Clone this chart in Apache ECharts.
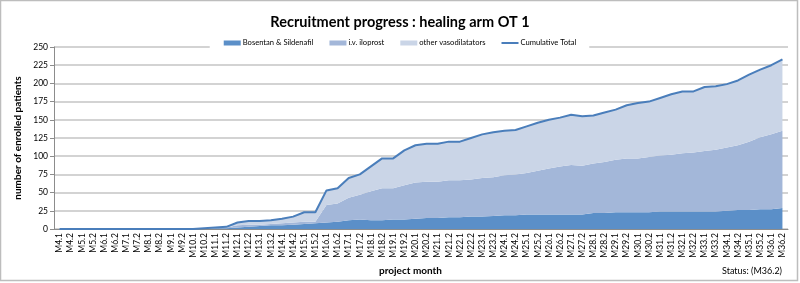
<!DOCTYPE html>
<html><head><meta charset="utf-8">
<script src="https://cdn.jsdelivr.net/npm/echarts@6/dist/echarts.min.js"></script>
<style>html,body{margin:0;padding:0;background:#fff}#c{width:800px;height:283px}</style>
</head><body><div id="c"></div>
<script>
const months = [];
for (let m = 4; m <= 36; m++) { months.push('M' + m + '.1'); months.push('M' + m + '.2'); }

const bosentan = [0,0,0,0,0,0,0,0,0,0,0,0,0,0,1,1,2,3,4,5,5,6,7,8,9,10,12,13,12,12,13,13,14,15,15,16,16,17,17,18,19,19,20,20,20,20,20,20,22,22,23,23,23,23,24,24,24,24,24,24,25,26,26,27,27,29];
const iloprost = [0,0,0,0,0,0,0,0,0,0,0,0,0,1,0,1,3,3,2,2,3,3,3,2,24,25,31,34,40,44,43,47,50,50,50,51,51,51,53,53,55,56,57,60,63,66,68,67,68,70,72,74,74,76,77,78,80,81,83,85,87,89,94,99,103,106];
const others = [0,0,0,0,0,0,0,0,0,0,0,0,0,0,1,1,4,5,5,5,6,8,13,13,20,21,27,28,34,41,41,48,51,52,52,53,53,57,60,62,61,61,64,66,67,67,69,68,66,68,69,73,76,76,79,83,85,84,88,87,87,89,92,93,95,98];
const cumulative = [0,0,0,0,0,0,0,0,0,0,0,0,0,1,2,3,9,11,11,12,14,17,23,23,53,56,70,75,86,97,97,108,115,117,117,120,120,125,130,133,135,136,141,146,150,153,157,155,156,160,164,170,173,175,180,185,189,189,195,196,199,204,212,219,225,233];
const yTicks = { min: 0, max: 250, interval: 25 };

const FONT = 'Lato, "Open Sans", sans-serif';
const chart = echarts.init(document.getElementById('c'), null, { renderer: 'canvas' });
const area = (name, data, color) => ({
  name, type: 'line', stack: 'total', data, symbol: 'none', smooth: false,
  lineStyle: { width: 0, color }, itemStyle: { color },
  areaStyle: { color, opacity: 1 }, z: 2
});
chart.setOption({
  animation: false,
  backgroundColor: '#fff',
  textStyle: { fontFamily: FONT },
  title: {
    text: 'Recruitment progress : healing arm OT 1',
    left: 'center', top: 10,
    textStyle: { fontFamily: FONT, fontSize: 14.5, fontWeight: 'bold', color: '#000' }
  },
  legend: {
    top: 36, left: 'center',
    backgroundColor: '#fff', padding: [3, 13, 3, 14],
    itemWidth: 17, itemHeight: 5, itemGap: 16,
    textStyle: { fontFamily: FONT, fontSize: 7.6, color: '#000', padding: [0, 0, 0, -3] },
    data: [
      { name: 'Bosentan & Sildenafil', icon: 'rect' },
      { name: 'i.v. iloprost', icon: 'rect' },
      { name: 'other vasodilatators', icon: 'rect' },
      { name: 'Cumulative Total', icon: 'path://M0,0 H17 V2 H0 Z' }
    ]
  },
  grid: { left: 54, right: 12, top: 47, bottom: 54 },
  xAxis: {
    type: 'category', data: months, boundaryGap: true,
    name: 'project month', nameLocation: 'middle', nameGap: 36,
    nameTextStyle: { fontFamily: FONT, fontSize: 10, fontWeight: 'bold', color: '#000', padding: [0, 21, 0, 0] },
    axisLine: { lineStyle: { color: '#8c8c8c' } },
    axisTick: { alignWithLabel: false, interval: 0, lineStyle: { color: '#8c8c8c' }, length: 4 },
    axisLabel: { interval: 0, rotate: 90, fontSize: 8.5, color: '#000', margin: 4, fontFamily: FONT },
    splitLine: { show: false }
  },
  yAxis: {
    type: 'value', min: yTicks.min, max: yTicks.max, interval: yTicks.interval,
    name: 'number of enrolled patients', nameLocation: 'middle', nameGap: 30, nameRotate: 90,
    nameTextStyle: { fontFamily: FONT, fontSize: 10, fontWeight: 'bold', color: '#000' },
    axisLine: { show: true, lineStyle: { color: '#8c8c8c' } },
    axisTick: { show: true, length: 4, lineStyle: { color: '#8c8c8c' } },
    axisLabel: { fontSize: 8.5, color: '#000', margin: 6, fontFamily: FONT },
    splitLine: { lineStyle: { color: '#c4c4c4', width: 1.5 } }
  },
  graphic: [
    { type: 'rect', shape: { x: 0.5, y: 0.5, width: 797, height: 280 }, style: { fill: 'none', stroke: '#bdbdbd', lineWidth: 1.5 }, z: 100 },
    { type: 'text', right: 18, top: 267, style: { text: 'Status: (M36.2)', font: '9px ' + FONT, fill: '#000' } }
  ],
  series: [
    area('Bosentan & Sildenafil', bosentan, '#5b8fc8'),
    area('i.v. iloprost', iloprost, '#a3b7d9'),
    area('other vasodilatators', others, '#cad5e7'),
    { name: 'Cumulative Total', type: 'line', data: cumulative, symbol: 'none',
      lineStyle: { width: 2, color: '#4a7ebb' }, itemStyle: { color: '#4a7ebb' }, z: 3 }
  ]
});
</script></body></html>
